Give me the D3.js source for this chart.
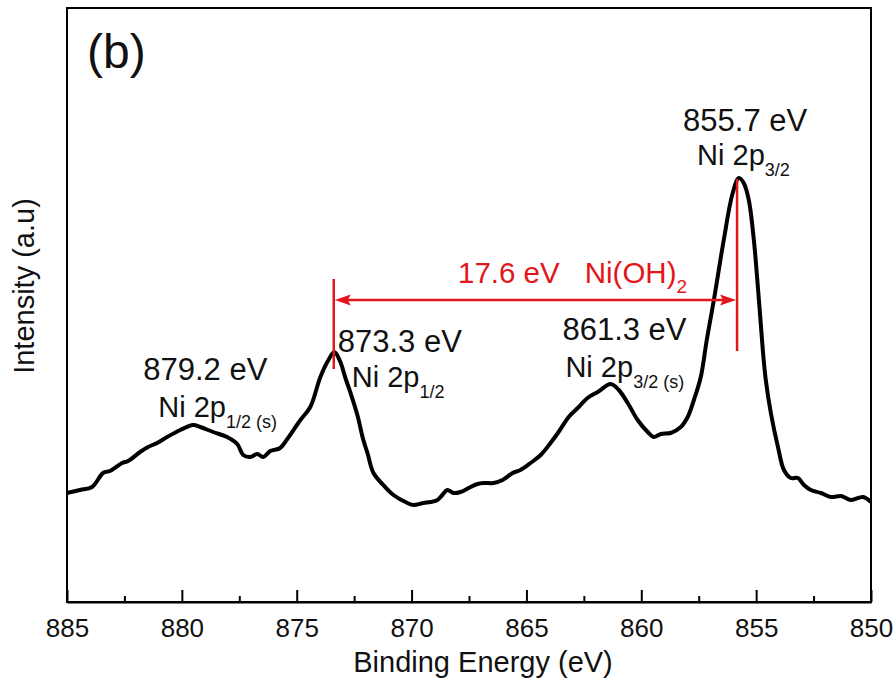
<!DOCTYPE html>
<html>
<head>
<meta charset="utf-8">
<script src="https://cdn.jsdelivr.net/npm/d3@7"></script>
<style>
  body { margin: 0; background: #fff; }
  text { font-family: Arial, "Liberation Sans", sans-serif; }
</style>
</head>
<body>
<svg class="svg" width="895" height="681"></svg>
<script>
// XPS Ni 2p spectrum
var energy = [885.00, 884.43, 883.91, 883.43, 883.13, 882.60, 882.34, 881.82, 881.47, 881.08,
  880.64, 880.07, 879.51, 879.20, 878.64, 878.03, 877.59, 877.33, 877.02, 876.72,
  876.46, 876.15, 875.72, 875.41, 874.84, 874.41, 873.97, 873.62, 873.36, 873.10,
  872.88, 872.67, 872.36, 872.10, 871.92, 871.66, 871.23, 870.79, 870.18, 869.92,
  869.48, 869.18, 868.87, 868.66, 868.44, 868.18, 867.87, 867.43, 867.13, 866.87,
  866.43, 866.04, 865.60, 865.26, 864.82, 864.38, 863.95, 863.60, 863.16, 862.77,
  862.34, 861.90, 861.33, 860.98, 860.59, 860.16, 859.72, 859.46, 859.15, 858.72,
  858.28, 857.98, 857.71, 857.41, 857.15, 856.84, 856.41, 856.02, 855.75, 855.54,
  855.32, 855.10, 854.88, 854.71, 854.58, 854.36, 854.05, 853.79, 853.49, 853.18,
  852.92, 852.62, 852.18, 851.74, 851.30, 850.87, 850.35, 850.00];
var intensity = [1090, 1120, 1150, 1290, 1310, 1390, 1410, 1500, 1550, 1590,
  1650, 1720, 1770, 1750, 1700, 1650, 1580, 1470, 1450, 1480,
  1450, 1510, 1540, 1630, 1820, 1950, 2250, 2420, 2500, 2400,
  2240, 2100, 1870, 1620, 1490, 1290, 1170, 1070, 990, 970,
  990, 1000, 1020, 1070, 1120, 1090, 1100, 1150, 1180, 1190,
  1190, 1220, 1290, 1320, 1390, 1470, 1590, 1700, 1850, 1940,
  2040, 2100, 2180, 2120, 1990, 1820, 1700, 1650, 1680, 1690,
  1750, 1850, 2020, 2250, 2620, 3020, 3620, 4090, 4240, 4190,
  4020, 3620, 3020, 2520, 2220, 1890, 1550, 1320, 1240, 1240,
  1170, 1120, 1090, 1050, 1060, 1020, 1050, 1000];

var majorTicks = [885, 880, 875, 870, 865, 860, 855, 850];
var minorTicks = [882.5, 877.5, 872.5, 867.5, 862.5, 857.5, 852.5];

// peak labels: position and subscript
var peakEnergy = [879.2, 873.3, 861.3, 855.7];
var peakSub = ['1/2 (s)', '1/2', '3/2 (s)', '3/2'];

// Ni(OH)2 splitting marker
var splitFrom = 873.3, splitTo = 855.7;
var splitText = '17.6 eV';

var svg = d3.select('.svg');
//plot box (note: "top" is reserved on window, so use a prefix)
var boxL = 67, boxR = 871, boxT = 8, boxB = 602;

var x = d3.scaleLinear().domain([885, 850]).range([boxL, boxR]);
var y = d3.scaleLinear().domain([0, 5940]).range([boxB, boxT]);

//frame
svg.append('rect')
  .attr('x', boxL).attr('y', boxT)
  .attr('width', boxR - boxL).attr('height', boxB - boxT)
  .attr('fill', 'none').attr('stroke', '#000').attr('stroke-width', 2);

//bottom axis, ticks pointing inward
var xAxis = svg.append('g')
  .attr('transform', 'translate(0,' + boxB + ')')
  .call(d3.axisBottom(x).tickValues(majorTicks).tickFormat(d3.format('d'))
    .tickSizeInner(-12).tickSizeOuter(0).tickPadding(17));
xAxis.select('.domain').attr('stroke-width', 2);
xAxis.selectAll('.tick line').attr('stroke', '#000').attr('stroke-width', 2);
xAxis.selectAll('text').attr('font-size', 26).attr('fill', '#111');

var xMinor = svg.append('g')
  .attr('transform', 'translate(0,' + boxB + ')')
  .call(d3.axisBottom(x).tickValues(minorTicks).tickFormat('')
    .tickSizeInner(-6).tickSizeOuter(0));
xMinor.select('.domain').remove();
xMinor.selectAll('.tick line').attr('stroke', '#000').attr('stroke-width', 2);

//axis titles
svg.append('text')
  .attr('x', (boxL + boxR) / 2 + 14).attr('y', 672)
  .attr('text-anchor', 'middle').attr('font-size', 29).attr('fill', '#111')
  .text('Binding Energy (eV)');

svg.append('text')
  .attr('transform', 'translate(34,' + ((boxT + boxB) / 2 - 19) + ') rotate(-90)')
  .attr('text-anchor', 'middle').attr('font-size', 29).attr('fill', '#111')
  .text('Intensity (a.u)');

svg.append('text')
  .attr('x', 87).attr('y', 68)
  .attr('font-size', 48).attr('fill', '#111')
  .text('(b)');

//spectrum
var line = d3.line()
  .x(function (d, i) { return x(energy[i]); })
  .y(function (d) { return y(d); })
  .curve(d3.curveCatmullRom.alpha(0.5));

svg.append('path')
  .datum(intensity)
  .attr('d', line)
  .attr('fill', 'none')
  .attr('stroke', '#000')
  .attr('stroke-width', 4)
  .attr('stroke-linejoin', 'round');

//red splitting marker
var red = '#e3161c';
var arrowY = y(3020);
svg.append('line')
  .attr('x1', x(splitFrom) - 2).attr('x2', x(splitFrom) - 2)
  .attr('y1', y(3230)).attr('y2', y(2330))
  .attr('stroke', red).attr('stroke-width', 2.5);
svg.append('line')
  .attr('x1', x(splitTo) - 3).attr('x2', x(splitTo) - 3)
  .attr('y1', y(4230)).attr('y2', y(2510))
  .attr('stroke', red).attr('stroke-width', 2.5);
svg.append('line')
  .attr('x1', x(splitFrom) + 10).attr('x2', x(splitTo) - 14)
  .attr('y1', arrowY).attr('y2', arrowY)
  .attr('stroke', red).attr('stroke-width', 2.5);

var ax0 = x(splitFrom) - 1, ax1 = x(splitTo) - 4;
svg.append('path')
  .attr('d', 'M' + ax0 + ',' + arrowY + 'l16,-5.5l-3,5.5l3,5.5z')
  .attr('fill', red);
svg.append('path')
  .attr('d', 'M' + ax1 + ',' + arrowY + 'l-16,-5.5l3,5.5l-3,5.5z')
  .attr('fill', red);

var redText = svg.append('text')
  .attr('x', 458).attr('y', 283)
  .attr('font-size', 29.5).attr('fill', red);
redText.append('tspan').text(splitText);
redText.append('tspan').attr('dx', 25).text('Ni(OH)');
redText.append('tspan').attr('dy', 10).attr('font-size', 19).text('2');

//peak labels
var evDx = [-57, 2, -49, -57];
var evY = [380, 352, 340, 131];
var niDx = [-42, 16, -46, -43];
var niY = [417, 387, 377, 165];

peakEnergy.forEach(function (e, i) {
  svg.append('text')
    .attr('x', x(e) + evDx[i]).attr('y', evY[i])
    .attr('font-size', 31).attr('fill', '#111')
    .text(e.toFixed(1) + ' eV');
  var t = svg.append('text')
    .attr('x', x(e) + niDx[i]).attr('y', niY[i])
    .attr('font-size', 29).attr('fill', '#111');
  t.append('tspan').text('Ni 2p');
  t.append('tspan').attr('dy', 11).attr('font-size', 18).text(peakSub[i]);
});
</script>
</body>
</html>
